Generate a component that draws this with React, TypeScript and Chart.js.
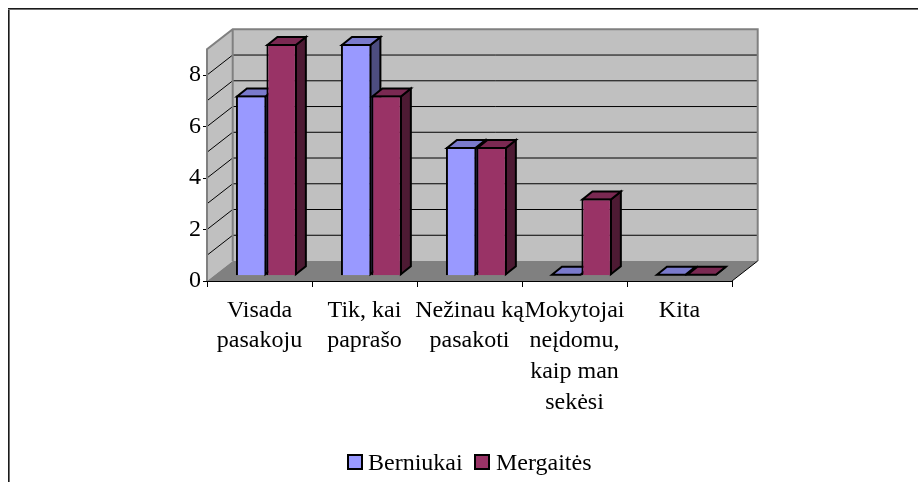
import React, { useEffect, useRef } from "react";
import { Chart, registerables } from "chart.js";

Chart.register(...registerables);

const categories = [
  ["Visada", "pasakoju"],
  ["Tik, kai", "paprašo"],
  ["Nežinau ką", "pasakoti"],
  ["Mokytojai", "neįdomu,", "kaip man", "sekėsi"],
  ["Kita"],
];
const berniukai = [7, 9, 5, 0, 0];
const mergaites = [9, 7, 5, 3, 0];

const FONT = '"Liberation Serif", "Times New Roman", serif';
const PLOT = { left: 207, right: 732, top: 49.3, bottom: 281 };
const WALL = { dx: 25.7, dy: -20 };
const BAR_SHIFT = { dx: 6.9, dy: -5.3 };
const BAR_DEPTH = { dx: 10, dy: -8 };
const FACES = [
  { top: "#7a7acc", side: "#4d4d80" },
  { top: "#7a2952", side: "#4d1a33" },
];

function poly(ctx: CanvasRenderingContext2D, pts: number[][], fill: string, stroke?: string, lw = 2) {
  ctx.beginPath();
  pts.forEach(([x, y], i) => (i ? ctx.lineTo(x, y) : ctx.moveTo(x, y)));
  ctx.closePath();
  ctx.fillStyle = fill;
  ctx.fill();
  if (stroke) {
    ctx.strokeStyle = stroke;
    ctx.lineWidth = lw;
    ctx.lineJoin = "miter";
    ctx.stroke();
  }
}

const scene3d = {
  id: "scene3d",
  beforeDraw(chart: any) {
    const { ctx } = chart;
    ctx.save();
    ctx.fillStyle = "#ffffff";
    ctx.fillRect(0, 0, chart.width, chart.height);
    ctx.fillStyle = "#1a1a1a";
    ctx.fillRect(8, 8, 910, 1);
    ctx.fillRect(8, 8, 1, 474);
    ctx.fillStyle = "#707070";
    ctx.fillRect(8, 9, 910, 1);
    ctx.fillRect(9, 9, 1, 473);
    ctx.restore();
  },
  beforeDatasetsDraw(chart: any) {
    const { ctx, chartArea: a, scales } = chart;
    const y = scales.y;
    const { dx, dy } = WALL;
    ctx.save();
    const yTop = y.getPixelForValue(9);
    const yBot = y.getPixelForValue(0);
    poly(ctx, [[a.left, yBot], [a.left + dx, yBot + dy], [a.left + dx, yTop + dy], [a.left, yTop]], "#c0c0c0");
    poly(ctx, [[a.left + dx, yTop + dy], [a.right + dx, yTop + dy], [a.right + dx, yBot + dy], [a.left + dx, yBot + dy]], "#c0c0c0");
    poly(ctx, [[a.left, yBot], [a.right, yBot], [a.right + dx, yBot + dy], [a.left + dx, yBot + dy]], "#808080");
    ctx.strokeStyle = "#000000";
    ctx.lineWidth = 1;
    for (let v = 1; v <= 8; v++) {
      const py = y.getPixelForValue(v);
      ctx.beginPath();
      ctx.moveTo(a.left, py);
      ctx.lineTo(a.left + dx, py + dy);
      ctx.lineTo(a.right + dx, py + dy);
      ctx.stroke();
    }
    ctx.strokeStyle = "#808080";
    ctx.lineWidth = 2;
    ctx.beginPath();
    ctx.moveTo(a.left, yBot);
    ctx.lineTo(a.left, yTop);
    ctx.lineTo(a.left + dx, yTop + dy);
    ctx.lineTo(a.right + dx, yTop + dy);
    ctx.lineTo(a.right + dx, yBot + dy);
    ctx.moveTo(a.left + dx, yTop + dy);
    ctx.lineTo(a.left + dx, yBot + dy);
    ctx.stroke();
    ctx.strokeStyle = "#000000";
    ctx.lineWidth = 1;
    ctx.beginPath();
    ctx.moveTo(a.right, yBot);
    ctx.lineTo(a.right + dx, yBot + dy);
    ctx.stroke();
    ctx.restore();
  },
  beforeDatasetDraw() {
    return false;
  },
  afterDatasetsDraw(chart: any) {
    const { ctx } = chart;
    const { dx, dy } = BAR_DEPTH;
    ctx.save();
    ctx.translate(BAR_SHIFT.dx, BAR_SHIFT.dy);
    chart.data.datasets.forEach((_: any, i: number) => {
      const meta = chart.getDatasetMeta(i);
      meta.data.forEach((el: any) => {
        const l = el.x - el.width / 2 + 1;
        const r = el.x + el.width / 2 - 1;
        const t = el.y + (el.base - el.y > 2 ? 1 : 0);
        const b = el.base - 1;
        poly(ctx, [[r, Math.min(t, b)], [r + dx, Math.min(t, b) + dy], [r + dx, b + dy], [r, b]], FACES[i].side, "#000000");
        poly(ctx, [[l, Math.min(t, b)], [l + dx, Math.min(t, b) + dy], [r + dx, Math.min(t, b) + dy], [r, Math.min(t, b)]], FACES[i].top, "#000000");
        el.draw(ctx);
      });
    });
    ctx.restore();
  },
  afterDraw(chart: any) {
    const { ctx } = chart;
    const items = [
      { box: 347, text: 368 },
      { box: 474, text: 496 },
    ];
    ctx.save();
    ctx.font = `24px ${FONT}`;
    ctx.textBaseline = "alphabetic";
    chart.data.datasets.forEach((ds: any, i: number) => {
      ctx.fillStyle = ds.backgroundColor;
      ctx.strokeStyle = "#000000";
      ctx.lineWidth = 2;
      ctx.fillRect(items[i].box + 1, 455, 14, 14);
      ctx.strokeRect(items[i].box + 1, 455, 14, 14);
      ctx.fillStyle = "#000000";
      ctx.fillText(ds.label, items[i].text, 470);
    });
    ctx.restore();
  },
};

export default function App() {
  const ref = useRef<HTMLCanvasElement | null>(null);
  useEffect(() => {
    const chart = new Chart(ref.current as HTMLCanvasElement, {
      type: "bar",
      plugins: [scene3d],
      data: {
        labels: categories as any,
        datasets: [
          { label: "Berniukai", data: berniukai, backgroundColor: "#9999ff", borderColor: "#000000", borderWidth: 2 },
          { label: "Mergaitės", data: mergaites, backgroundColor: "#993366", borderColor: "#000000", borderWidth: 2 },
        ],
      },
      options: {
        responsive: false,
        animation: false,
        devicePixelRatio: 1,
        layout: { padding: { left: 0, right: 918 - PLOT.right, top: PLOT.top, bottom: 0 } },
        categoryPercentage: 0.58,
        barPercentage: 1,
        plugins: { legend: { display: false }, tooltip: { enabled: false }, title: { display: false } },
        scales: {
          x: {
            afterFit: (s: any) => { s.height = 482 - PLOT.bottom; },
            grid: { drawOnChartArea: false, color: "#000000", tickLength: 6, tickWidth: 1 },
            border: { color: "#000000", width: 1 },
            ticks: {
              color: "#000000",
              autoSkip: false,
              maxRotation: 0,
              padding: 8,
              font: { family: FONT, size: 24, lineHeight: 1.28 },
            },
          },
          y: {
            min: 0,
            max: 9,
            afterFit: (s: any) => { s.width = PLOT.left; },
            grid: { drawOnChartArea: false, color: "#000000", tickLength: 4, tickWidth: 1 },
            border: { display: false },
            ticks: {
              stepSize: 1,
              color: "#000000",
              padding: 2,
              font: { family: FONT, size: 24 },
            },
          },
        },
      } as any,
    });
    return () => chart.destroy();
  }, []);
  return (
    <canvas
      ref={ref}
      width={918}
      height={482}
      style={{ position: "fixed", left: 0, top: 0, display: "block" }}
    />
  );
}
